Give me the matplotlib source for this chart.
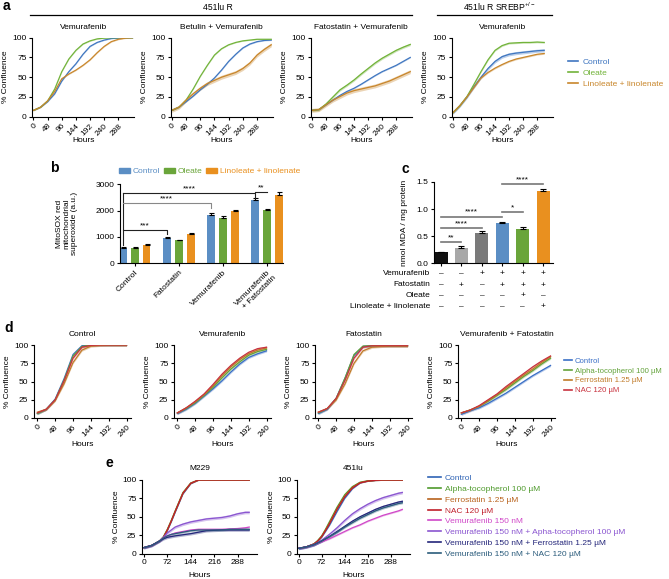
# Multi-panel figure: growth curves, MitoSOX bars, MDA bars
import numpy as np
import matplotlib
matplotlib.use("Agg")
import matplotlib.pyplot as plt
import matplotlib.transforms as mtransforms
from matplotlib.lines import Line2D
from matplotlib.patches import Patch

plt.rcParams['font.family'] = ['Liberation Sans', 'DejaVu Sans']
plt.rcParams['font.size'] = 6
plt.rcParams['axes.linewidth'] = 0.8
plt.rcParams['mathtext.default'] = 'regular'

W, H = 669, 579

# ---------------- data ----------------
# panel a: % confluence every 24 h
a_hours = [0, 24, 48, 72, 96, 120, 144, 168, 192, 216, 240, 264, 288, 312, 336]
a1_control = [8, 12, 19, 29, 45, 57, 67, 79, 89, 94, 97, 99, 99.5, 100, 100]
a1_oleate = [8, 12, 20, 35, 57, 73, 84, 92, 96, 98.5, 99.5, 100, 100, 100, 100]
a1_linole = [8, 12, 20, 32, 48, 54, 59, 65, 72, 81, 89, 95, 98, 99.5, 100]
a2_control = [8, 12, 19, 26, 34, 41, 49, 59, 70, 79, 87, 92, 95, 96.5, 97]
a2_oleate = [8, 12, 21, 35, 51, 65, 78, 86, 91, 94, 96, 97, 98, 98, 98]
a2_linole = [8, 12, 21, 29, 36, 42, 46, 50, 53, 56, 61, 68, 78, 85, 91]
a3_control = [8, 9, 15, 21, 27, 32, 36, 41, 46.5, 52, 57, 61, 65, 70, 75]
a3_oleate = [8, 9, 16, 25, 34, 40, 46.5, 54, 61, 68, 74, 79, 84, 88, 91.5]
a3_linole = [8, 9, 15, 21, 25.5, 30, 33, 35, 37, 39, 42, 45, 49, 53, 57]
a4_hours = [0, 24, 48, 72, 96, 120, 144, 168, 192, 216, 240, 264, 288, 312]
a4_control = [5, 14, 25, 38, 50, 61, 70, 76, 79, 80.5, 81.5, 82.5, 83.5, 84]
a4_oleate = [5, 14, 25.5, 41, 57, 72, 84, 90, 93, 93.5, 94, 94, 94.5, 94]
a4_linole = [5, 14, 25, 37, 49, 56, 61.5, 66, 70, 73, 75, 77, 79, 80]
a_sem = [[0.5, 0.5, 0.6], [0.6, 0.5, 2.5], [0.6, 1.5, 2.5], [2.0, 1.0, 1.0]]
a_titles = ['Vemurafenib', 'Betulin + Vemurafenib', 'Fatostatin + Vemurafenib', 'Vemurafenib']
a_labels = ['Control', 'Oleate', 'Linoleate + linolenate']

# panel b: MitoSOX
b_groups = ['Control', 'Fatostatin', 'Vemurafenib', 'Vemurafenib\n+ Fatostatin']
b_control = [580, 960, 1840, 2420]
b_oleate = [570, 870, 1730, 2040]
b_linole = [690, 1120, 1970, 2580]
b_control_err = [25, 35, 60, 45]
b_oleate_err = [35, 30, 50, 40]
b_linole_err = [50, 20, 60, 120]

# panel c: MDA
c_values = [0.20, 0.29, 0.56, 0.75, 0.64, 1.33]
c_err = [0.01, 0.025, 0.035, 0.02, 0.025, 0.045]
c_rows = ['Vemurafenib', 'Fatostatin', 'Oleate', 'Linoleate + linolenate']
c_vemurafenib = ['\u2013', '\u2013', '+', '+', '+', '+']
c_fatostatin = ['\u2013', '+', '\u2013', '+', '+', '+']
c_oleate = ['\u2013', '\u2013', '\u2013', '\u2013', '+', '\u2013']
c_linole = ['\u2013', '\u2013', '\u2013', '\u2013', '\u2013', '+']

# panel d: antioxidants
d_hours = [0, 24, 48, 72, 96, 120, 144, 168, 192, 216, 240]
d1_control = [6, 12, 26, 54, 87, 99, 100, 100, 100, 100, 100]
d1_alpha = [6, 12, 25, 52, 85, 98, 100, 100, 100, 100, 100]
d1_ferro = [8, 12, 24, 47, 76, 93, 98.5, 99.5, 100, 100, 100]
d1_nac = [7, 12, 25, 51, 82, 97, 99.5, 100, 100, 100, 100]
d2_control = [6, 12, 20, 30, 40, 51, 63, 74, 83, 88, 92]
d2_alpha = [7, 13, 21, 31, 42, 55, 67, 77, 86, 91, 94]
d2_ferro = [7, 14, 22, 32, 44, 58, 70, 80, 88, 93, 96]
d2_nac = [7, 14, 23, 33, 46, 60, 72, 82, 90, 95, 97]
d3_control = [6, 12, 27, 55, 86, 98, 99, 99, 99, 99, 99]
d3_alpha = [7, 13, 27, 55, 87, 98.5, 99, 99, 99, 99, 99]
d3_ferro = [8, 13, 25, 47, 75, 92, 97, 98, 98.5, 98.5, 98.5]
d3_nac = [8, 13, 27, 52, 82, 97, 99, 99, 99, 99, 99]
d4_control = [5, 10, 14, 20, 27, 34, 42, 50, 58, 65, 72]
d4_alpha = [7, 11, 16, 23, 31, 39, 48, 57, 65, 74, 82]
d4_ferro = [7, 11, 16, 24, 32, 41, 50, 59, 67, 76, 84]
d4_nac = [7, 11, 17, 25, 33, 43, 52, 61, 70, 78, 85]
d_titles = ['Control', 'Vemurafenib', 'Fatostatin', 'Vemurafenib + Fatostatin']
d_labels = ['Control', 'Alpha-tocopherol 100 \u00b5M', 'Ferrostatin 1.25 \u00b5M', 'NAC 120 \u00b5M']

# panel e: M229 and 451lu
e_hours = [0, 24, 48, 60, 72, 84, 96, 120, 144, 168, 192, 216, 240, 264, 288, 312, 324]
e1_control = [8, 11, 17, 22, 31, 43, 56, 81, 95, 100, 100, 100, 100, 100, 100, 100, 100]
e1_alpha = [8, 11, 17, 23, 33, 45, 58, 83, 96, 100, 100, 100, 100, 100, 100, 100, 100]
e1_ferro = [8, 11, 17, 22, 32, 44, 57, 82, 95.5, 100, 100, 100, 100, 100, 100, 100, 100]
e1_nac = [8, 11, 17, 22, 32, 44, 57, 82, 95.5, 100, 100, 100, 100, 100, 100, 100, 100]
e1_vem = [8, 11, 17, 21, 24, 26, 28, 30, 32, 33, 33, 33, 33, 33.5, 34, 35, 36]
e1_vem_alpha = [8, 11, 17, 22, 28, 32, 36, 40, 43, 45, 47, 48, 49, 51, 54, 56, 56]
e1_vem_ferro = [8, 11, 17, 20, 22, 23, 24, 25.5, 27, 29, 31, 31.5, 32, 32, 32, 32, 32]
e1_vem_nac = [8, 11, 17, 21, 24, 26, 27, 29, 31, 32, 32, 32, 32, 33, 33, 33, 33]
e2_control = [7, 9, 13, 17, 22, 30, 38, 57, 75, 88, 96, 98.5, 99.5, 100, 100, 100, 100]
e2_alpha = [7, 9, 13, 18, 24, 33, 43, 63, 80, 91, 97, 99, 99.5, 100, 100, 100, 100]
e2_ferro = [7, 9, 13, 17, 23, 32, 41, 61, 78, 90, 96.5, 98.5, 99.5, 100, 100, 100, 100]
e2_nac = [7, 9, 13, 17, 23, 31, 40, 60, 77, 89, 96, 98.5, 99.5, 100, 100, 100, 100]
e2_vem = [7, 9, 12, 14, 16, 18, 20, 25, 30, 35, 39, 44, 48, 52, 55, 58, 60]
e2_vem_alpha = [7, 9, 12, 15, 18, 22, 26, 35, 45, 54, 61, 67, 72, 76, 79, 82, 83]
e2_vem_ferro = [7, 9, 12, 14.5, 17, 20, 23, 30, 37, 44, 50, 55, 60, 64, 67, 70, 71]
e2_vem_nac = [7, 9, 12, 14.5, 17, 20, 23, 29, 36, 42, 48, 53, 58, 62, 65, 68, 69]
e_sem = [0.5, 0.5, 0.5, 0.5, 1.0, 2.0, 1.8, 1.5]
e_titles = ['M229', '451lu']
e_labels = ['Control', 'Alpha-tocopherol 100 \u00b5M', 'Ferrostatin 1.25 \u00b5M', 'NAC 120 \u00b5M',
            'Vemurafenib 150 nM', 'Vemurafenib 150 nM + Apha-tocopherol 100 \u00b5M',
            'Vemurafenib 150 nM + Ferrostatin 1.25 \u00b5M', 'Vemurafenib 150 nM + NAC 120 \u00b5M']

# colours
a_colors = ['#3f76c0', '#72b33a', '#c8862b']
b_colors = ['#5b8ec4', '#6aa53a', '#e9901f']
c_colors = ['#111111', '#a8a8a8', '#7a7a7a', '#5b8ec4', '#6aa53a', '#e9901f']
d_colors = ['#3a6fc6', '#63a23a', '#c07a28', '#c8333f']
e_colors = ['#2f63b5', '#4f9a2c', '#b8621c', '#c01f2a', '#d048c8', '#8a55d0', '#24267a', '#2b5c7c']

fig = plt.figure(figsize=(W / 100, H / 100), dpi=100)


def px_axes(left, top, right, bottom):
    return fig.add_axes([left / W, 1 - bottom / H, (right - left) / W, (bottom - top) / H])


def style(ax):
    ax.spines['top'].set_visible(False)
    ax.spines['right'].set_visible(False)
    ax.tick_params(direction='out', length=2.5, width=0.8, labelsize=6, pad=1.5)


def growth(ax, hours, series, colors, sems, xticks, xlim, title, rotate, ylab_px, xlab_frac, title_pad):
    for vals, col, sem in zip(series, colors, sems):
        v = np.array(vals, dtype=float)
        ax.fill_between(hours, v - sem, v + sem, color=col, alpha=0.35, lw=0)
        ax.plot(hours, v, color=col, lw=0.9)
    style(ax)
    ax.set_ylim(0, 100)
    ax.set_yticks([0, 25, 50, 75, 100])
    ax.set_xlim(*xlim)
    ax.set_xticks(xticks)
    if rotate:
        plt.setp(ax.get_xticklabels(), rotation=45, ha='right', rotation_mode='anchor')
    ax.set_ylabel('% Confluence', fontsize=6)
    width_px = ax.get_position().width * W
    ax.yaxis.set_label_coords(-ylab_px / width_px, 0.5)
    ax.set_xlabel('Hours', fontsize=6, va='top')
    ax.xaxis.set_label_coords(0.5, xlab_frac)
    ax.set_title(title, fontsize=6, pad=title_pad)


# ---------------- panel a ----------------
a_boxes = [(32.3, 134), (170.7, 272.7), (310.7, 411.7), (451.7, 552.7)]
a_data = [(a_hours, [a1_control, a1_oleate, a1_linole]),
          (a_hours, [a2_control, a2_oleate, a2_linole]),
          (a_hours, [a3_control, a3_oleate, a3_linole]),
          (a4_hours, [a4_control, a4_oleate, a4_linole])]
a_axes = []
for (l, r), (hrs, ser), sem, ttl in zip(a_boxes, a_data, a_sem, a_titles):
    ax = px_axes(l, 37.7, r, 116.7)
    growth(ax, hrs, ser, a_colors, sem, [0, 48, 96, 144, 192, 240, 288], (-4, 341),
           ttl, True, 23, -0.26, 6.5)
    a_axes.append(ax)

fig.text(218 / W, 1 - 7 / H, '451lu R', ha='center', va='center', fontsize=6.2)
fig.text(500 / W, 1 - 7 / H, '451lu R SREBP$^{+/-}$', ha='center', va='center', fontsize=6.2)
fig.add_artist(Line2D([30 / W, 412 / W], [1 - 15 / H] * 2, color='k', lw=0.9))
fig.add_artist(Line2D([437 / W, 552 / W], [1 - 15 / H] * 2, color='k', lw=0.9))

a_handles = [Line2D([], [], color=c, lw=1.2) for c in a_colors]
fig.legend(a_handles, a_labels, loc='upper left', bbox_to_anchor=(568 / W, 1 - 58.5 / H),
           frameon=False, fontsize=6, handlelength=1.2, handletextpad=0.55,
           labelspacing=0.35, borderpad=0, borderaxespad=0, labelcolor='linecolor')

# ---------------- panel b ----------------
axb = px_axes(120, 184.3, 283, 263.3)
style(axb)
xg = np.arange(len(b_groups))
bw, off = 0.18, 0.27
b_series = [b_control, b_oleate, b_linole]
b_errs = [b_control_err, b_oleate_err, b_linole_err]
for i, (vals, errs, col) in enumerate(zip(b_series, b_errs, b_colors)):
    axb.bar(xg + (i - 1) * off, vals, bw, color=col,
            yerr=[np.zeros(len(errs)), errs], capsize=1.8,
            error_kw=dict(elinewidth=0.8, capthick=0.8, ecolor='k'))
axb.set_xlim(-0.33, 3.36)
axb.set_ylim(0, 3000)
axb.set_yticks([0, 1000, 2000, 3000])
axb.set_xticks(xg)
axb.set_xticklabels(b_groups, rotation=45, ha='right', rotation_mode='anchor')
axb.set_ylabel('MitoSOX red\nmitochondrial\nsuperoxide (a.u.)', fontsize=6, linespacing=1.1)
axb.yaxis.set_label_coords(-42 / 163, 0.5)

# significance brackets
x0 = -off
axb.plot([x0, x0], [700, 2658], color='#222222', lw=0.8)
for xr, yb, col, stars in [(1 - off, 1264, '#222222', '***'),
                           (2 - off, 2278, '#888888', '****'),
                           (3 - off, 2658, '#222222', '****')]:
    axb.plot([x0, xr, xr], [yb, yb, yb - 170], color=col, lw=0.8)
    axb.text((x0 + xr) / 2, yb + 40, stars, ha='center', va='bottom', fontsize=6)
axb.plot([3 - off, 3], [2700, 2700], color='#222222', lw=0.8)
axb.text(3 - off / 2, 2740, '**', ha='center', va='bottom', fontsize=6)

b_handles = [Patch(color=c) for c in b_colors]
fig.legend(b_handles, a_labels, loc='center left', bbox_to_anchor=(119 / W, 1 - 171.5 / H),
           ncol=3, frameon=False, fontsize=6, handlelength=1.3, handleheight=0.6,
           handletextpad=0.3, columnspacing=0.5, borderpad=0, borderaxespad=0)
for t, c in zip(fig.legends[-1].get_texts(), b_colors):
    t.set_color(c)

# ---------------- panel c ----------------
axc = px_axes(434, 182, 553, 263.3)
style(axc)
xc = np.arange(len(c_values))
axc.bar(xc, c_values, 0.65, color=c_colors,
        yerr=[np.zeros(len(c_err)), c_err], capsize=2,
        error_kw=dict(elinewidth=0.8, capthick=0.8, ecolor='k'))
axc.set_xlim(-0.34, 5.48)
axc.set_ylim(0, 1.5)
axc.set_yticks([0, 0.5, 1.0, 1.5])
axc.set_yticklabels(['0.0', '0.5', '1.0', '1.5'])
axc.set_xticks(xc)
axc.set_xticklabels([])
axc.set_ylabel('nmol MDA / mg protein', fontsize=6)
axc.yaxis.set_label_coords(-26 / 119, 0.5)
for xa, xb, yv, stars in [(0, 1, 0.39, '**'), (0, 2, 0.65, '****'), (0, 3, 0.86, '****'),
                          (3, 4, 0.94, '*'), (3, 5, 1.46, '****')]:
    axc.plot([xa, xb], [yv, yv], color='#777777', lw=1.2)
    axc.text((xa + xb) / 2, yv + 0.02, stars, ha='center', va='bottom', fontsize=6)

trans = mtransforms.blended_transform_factory(axc.transData, fig.transFigure)
for name, signs, ypx in zip(c_rows, [c_vemurafenib, c_fatostatin, c_oleate, c_linole],
                            [273.3, 285, 295.7, 306.7]):
    fig.text(430 / W, 1 - ypx / H, name, ha='right', va='center', fontsize=6)
    for xi, s in zip(xc, signs):
        axc.text(xi, 1 - ypx / H, s, transform=trans, ha='center', va='center', fontsize=6,
                 clip_on=False)

# ---------------- panel d ----------------
d_boxes = [(34, 131), (174, 271), (315, 412), (458, 555)]
d_sets = [[d1_control, d1_alpha, d1_ferro, d1_nac],
          [d2_control, d2_alpha, d2_ferro, d2_nac],
          [d3_control, d3_alpha, d3_ferro, d3_nac],
          [d4_control, d4_alpha, d4_ferro, d4_nac]]
d_sem = [1.5, 1.5, 1.5, 1.5]
for (l, r), ser, ttl in zip(d_boxes, d_sets, d_titles):
    ax = px_axes(l, 345, r, 418)
    growth(ax, d_hours, ser, d_colors, d_sem, [0, 48, 96, 144, 192, 240], (-9, 252),
           ttl, True, 23, -0.31, 6.5)

d_handles = [Line2D([], [], color=c, lw=1.2) for c in d_colors]
fig.legend(d_handles, d_labels, loc='upper left', bbox_to_anchor=(564 / W, 1 - 357.5 / H),
           frameon=False, fontsize=5.6, handlelength=1.0, handletextpad=0.4,
           labelspacing=0.3, borderpad=0, borderaxespad=0, labelcolor='linecolor')

# ---------------- panel e ----------------
e_boxes = [(142, 257), (296.7, 410)]
e_sets = [[e1_control, e1_alpha, e1_ferro, e1_nac, e1_vem, e1_vem_alpha, e1_vem_ferro, e1_vem_nac],
          [e2_control, e2_alpha, e2_ferro, e2_nac, e2_vem, e2_vem_alpha, e2_vem_ferro, e2_vem_nac]]
for (l, r), ser, ttl in zip(e_boxes, e_sets, e_titles):
    ax = px_axes(l, 480, r, 553.5)
    growth(ax, e_hours, ser, e_colors, e_sem, [0, 72, 144, 216, 288], (-6, 348),
           ttl, False, 22, -0.25, 7)

e_handles = [Line2D([], [], color=c, lw=1.2) for c in e_colors]
fig.legend(e_handles, e_labels, loc='upper left', bbox_to_anchor=(428 / W, 1 - 474.5 / H),
           frameon=False, fontsize=6, handlelength=1.5, handletextpad=0.5,
           labelspacing=0.35, borderpad=0, borderaxespad=0, labelcolor='linecolor')

# panel letters
for letter, xp, yp in [('a', 3, 6), ('b', 50, 168), ('c', 401, 169), ('d', 4, 328), ('e', 105, 463)]:
    fig.text(xp / W, 1 - yp / H, letter, fontsize=10, fontweight='bold', ha='left', va='center')

fig.savefig('out.png', dpi=100)
